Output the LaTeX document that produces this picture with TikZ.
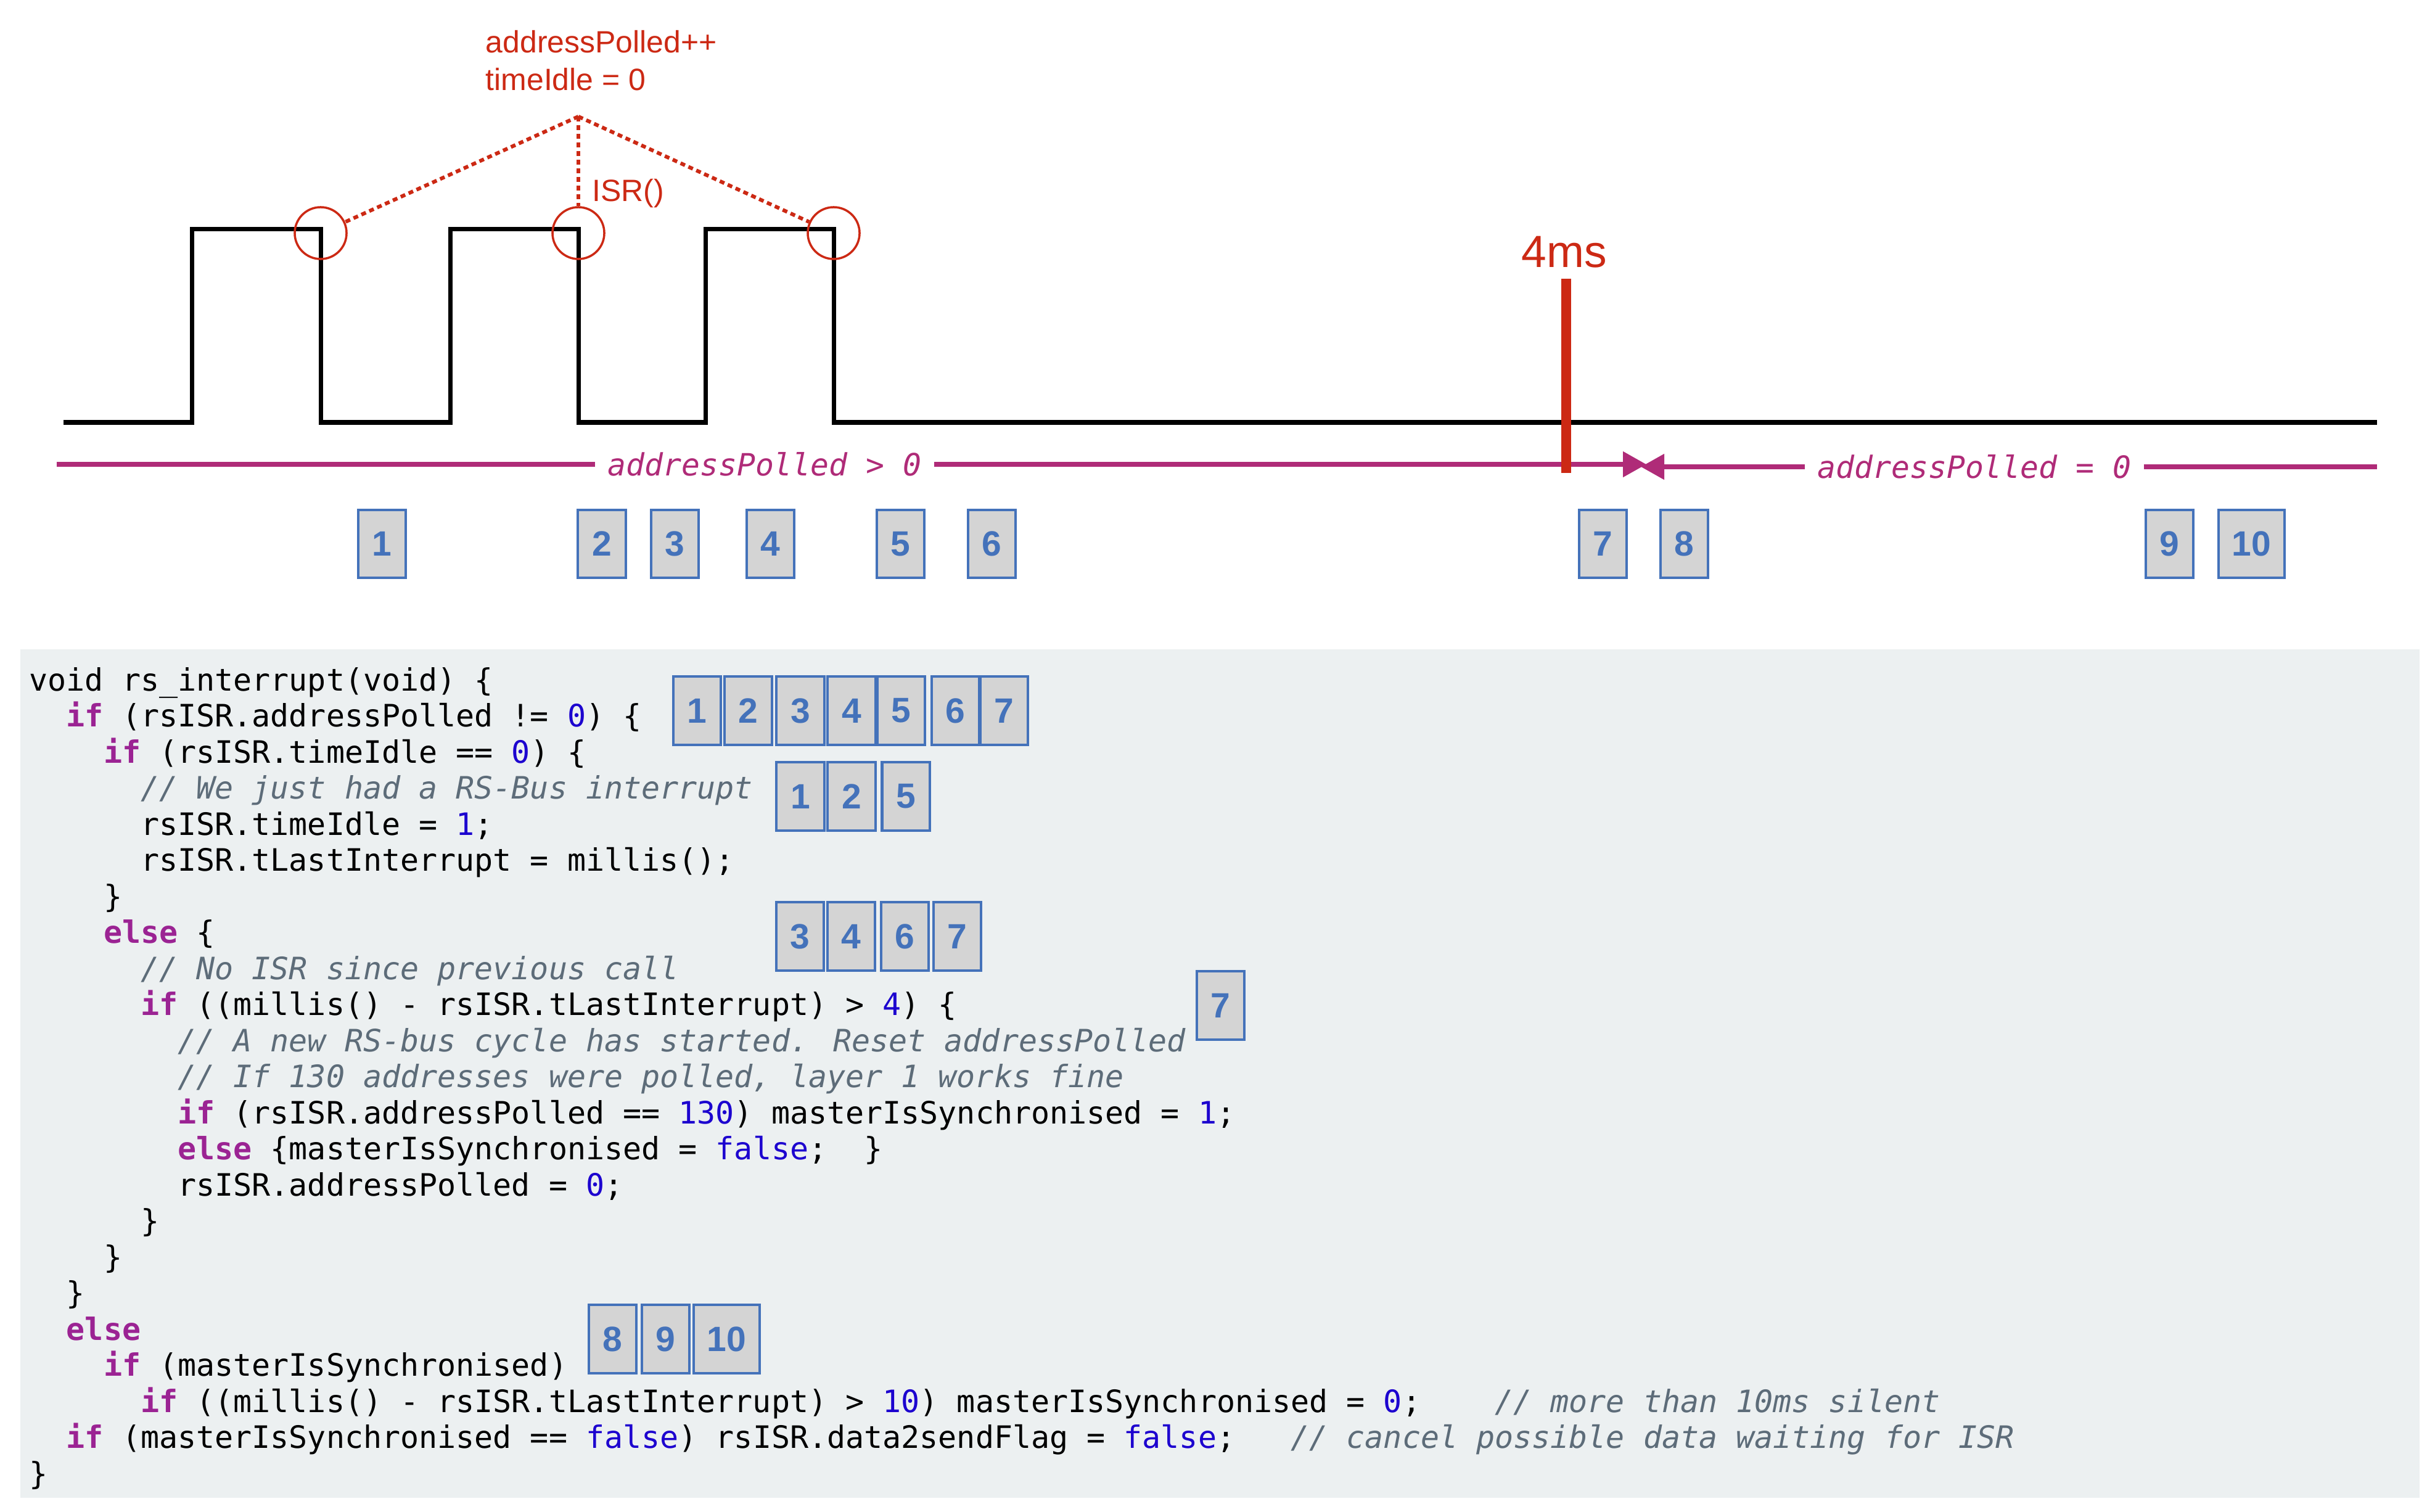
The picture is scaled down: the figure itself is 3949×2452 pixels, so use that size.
\documentclass[tikz,border=0pt]{standalone}
\usepackage{fontspec}
\setmainfont{Liberation Sans}
\newfontfamily\codefont{DejaVu Sans Mono}
\usetikzlibrary{arrows.meta}

\definecolor{sigred}{RGB}{204,41,20}
\definecolor{polmag}{RGB}{175,43,120}
\definecolor{tagblue}{RGB}{68,114,186}
\definecolor{tagfill}{RGB}{212,212,212}
\definecolor{panelbg}{RGB}{236,240,241}
\definecolor{kwcol}{RGB}{155,35,147}
\definecolor{litcol}{RGB}{28,0,207}
\definecolor{cmtcol}{RGB}{93,108,121}

% code syntax colouring
\newcommand{\kw}[1]{{\bfseries\color{kwcol}#1}}
\newcommand{\lit}[1]{{\color{litcol}#1}}
\newcommand{\cmt}[1]{{\itshape\color{cmtcol}#1}}
\newcommand{\codesize}{\fontsize{14.21pt}{17pt}\selectfont}
\newcommand{\labelsize}{\fontsize{14.14pt}{17pt}\selectfont}

\tikzset{
  wave/.style={line width=0.07cm, black},
  isrring/.style={circle, draw=sigred, line width=0.035cm, minimum size=0.84cm, inner sep=0pt},
  isrlink/.style={sigred, line width=0.06cm, dash pattern=on 0.08cm off 0.06cm},
  redlabel/.style={anchor=base west, inner sep=0pt, text=sigred, font=\fontsize{14.2pt}{17pt}\selectfont},
  pol/.style={polmag, line width=0.08cm},
  poltip/.style={-{Triangle[length=0.38cm,width=0.40cm]}},
  pollabel/.style={inner xsep=0.2cm, inner ysep=0pt, text=polmag, font=\codefont\itshape\labelsize},
  tag/.style={draw=tagblue, fill=tagfill, line width=0.04cm, minimum width=0.77cm,
    minimum height=1.10cm, inner sep=0pt, text=tagblue, font=\fontsize{16.2pt}{18pt}\selectfont\bfseries},
  widetag/.style={tag, minimum width=1.07cm},
  codeline/.style={anchor=base west, inner sep=0pt, font=\codefont\codesize},
}

\begin{document}
\begin{tikzpicture}[x=0.01cm, y=-0.01cm]
\useasboundingbox (0,0) rectangle (3949,2452);

% bus signal
\draw[wave] (103,685) -| (311,372) -| (520,685) -| (730,372) -| (938,685)
  -| (1144,372) -| (1352,685) -- (3855,685);

% interrupt markers on the falling edges
\node[isrring] (r1) at (520,378) {};
\node[isrring] (r2) at (938,378) {};
\node[isrring] (r3) at (1352,378) {};
\coordinate (apex) at (938,189);
\draw[isrlink] (apex) -- (r1);
\draw[isrlink] (apex) -- (r2);
\draw[isrlink] (apex) -- (r3);
\node[redlabel] (inc) at (787,86) {addressPolled++};
\node[redlabel] (idle) at (787,147) {timeIdle = 0};
\node[redlabel] (isr) at (960,327) {ISR()};

% addressPolled state bar
\coordinate (polstart) at (92,753);
\node[pollabel] (polA) at (1240,753) {addressPolled > 0};
\coordinate (tipA) at (2670,753);
\node[pollabel] (polB) at (3202,757) {addressPolled = 0};
\coordinate (tipB) at (2661,757);
\coordinate (polend) at (3855,757);
\draw[pol] (polstart) -- (polA.west);
\draw[pol, poltip] (polA.east) -- (tipA);
\draw[pol, poltip] (polB.west) -- (tipB);
\draw[pol] (polB.east) -- (polend);

% 4 ms timeout
\coordinate (mtop) at (2540,452);
\coordinate (mbot) at (2540,767);
\draw[sigred, line width=0.16cm] (mtop) -- (mbot);
\node[anchor=base, inner sep=0pt, text=sigred, font=\fontsize{20.8pt}{24pt}\selectfont] (tmo) at (2537,434) {4ms};

% moments on the time line
\node[tag] (t1) at (619.5,882) {1};
\node[tag] (t2) at (976,882) {2};
\node[tag] (t3) at (1094.5,882) {3};
\node[tag] (t4) at (1249.5,882) {4};
\node[tag] (t5) at (1460.5,882) {5};
\node[tag] (t6) at (1608.5,882) {6};
\node[tag] (t7) at (2599.5,882) {7};
\node[tag] (t8) at (2731,882) {8};
\node[tag] (t9) at (3518.5,882) {9};
\node[widetag] (t10) at (3651,882) {10};

% source listing
\fill[panelbg] (33,1053) rectangle (3924,2429);
\node[codeline] (l1)  at (47,1120)   {void rs\_interrupt(void) \{};
\node[codeline] (l2)  at (47,1178.5) {~~\kw{if} (rsISR.addressPolled != \lit{0}) \{};
\node[codeline] (l3)  at (47,1237)   {~~~~\kw{if} (rsISR.timeIdle == \lit{0}) \{};
\node[codeline] (l4)  at (47,1295.5) {~~~~~~\cmt{// We just had a RS-Bus interrupt}};
\node[codeline] (l5)  at (47,1354)   {~~~~~~rsISR.timeIdle = \lit{1};};
\node[codeline] (l6)  at (47,1412.5) {~~~~~~rsISR.tLastInterrupt = millis();};
\node[codeline] (l7)  at (47,1471)   {~~~~\}};
\node[codeline] (l8)  at (47,1529.5) {~~~~\kw{else} \{};
\node[codeline] (l9)  at (47,1588)   {~~~~~~\cmt{// No ISR since previous call}};
\node[codeline] (l10) at (47,1646.5) {~~~~~~\kw{if} ((millis() - rsISR.tLastInterrupt) > \lit{4}) \{};
\node[codeline] (l11) at (47,1705)   {~~~~~~~~\cmt{// A new RS-bus cycle has started. Reset addressPolled}};
\node[codeline] (l12) at (47,1763.5) {~~~~~~~~\cmt{// If 130 addresses were polled, layer 1 works fine}};
\node[codeline] (l13) at (47,1822)   {~~~~~~~~\kw{if} (rsISR.addressPolled == \lit{130}) masterIsSynchronised = \lit{1};};
\node[codeline] (l14) at (47,1880.5) {~~~~~~~~\kw{else} \{masterIsSynchronised = \lit{false};~~\}};
\node[codeline] (l15) at (47,1939)   {~~~~~~~~rsISR.addressPolled = \lit{0};};
\node[codeline] (l16) at (47,1997.5) {~~~~~~\}};
\node[codeline] (l17) at (47,2056)   {~~~~\}};
\node[codeline] (l18) at (47,2114.5) {~~\}};
\node[codeline] (l19) at (47,2173)   {~~\kw{else}};
\node[codeline] (l20) at (47,2231.5) {~~~~\kw{if} (masterIsSynchronised)};
\node[codeline] (l21) at (47,2290)   {~~~~~~\kw{if} ((millis() - rsISR.tLastInterrupt) > \lit{10}) masterIsSynchronised = \lit{0};~~~~\cmt{// more than 10ms silent}};
\node[codeline] (l22) at (47,2348.5) {~~\kw{if} (masterIsSynchronised == \lit{false}) rsISR.data2sendFlag = \lit{false};~~~\cmt{// cancel possible data waiting for ISR}};
\node[codeline] (l23) at (47,2407)   {\}};

% moments at which each branch is taken
\node[tag] (a1) at (1130.5,1152.5) {1};
\node[tag] (a2) at (1213.5,1152.5) {2};
\node[tag] (a3) at (1298,1152.5) {3};
\node[tag] (a4) at (1381,1152.5) {4};
\node[tag] (a5) at (1461,1152.5) {5};
\node[tag] (a6) at (1549,1152.5) {6};
\node[tag] (a7) at (1628.5,1152.5) {7};

\node[tag] (b1) at (1298,1291.5) {1};
\node[tag] (b2) at (1381,1291.5) {2};
\node[tag] (b5) at (1469,1291.5) {5};

\node[tag] (c3) at (1297.5,1518.5) {3};
\node[tag] (c4) at (1380.5,1518.5) {4};
\node[tag] (c6) at (1467.5,1518.5) {6};
\node[tag] (c7) at (1552.5,1518.5) {7};

\node[tag] (d7) at (1979.5,1630.5) {7};

\node[tag] (e8) at (993.5,2171.5) {8};
\node[tag] (e9) at (1079.5,2171.5) {9};
\node[widetag] (e10) at (1178.5,2171.5) {10};
\end{tikzpicture}
\end{document}
